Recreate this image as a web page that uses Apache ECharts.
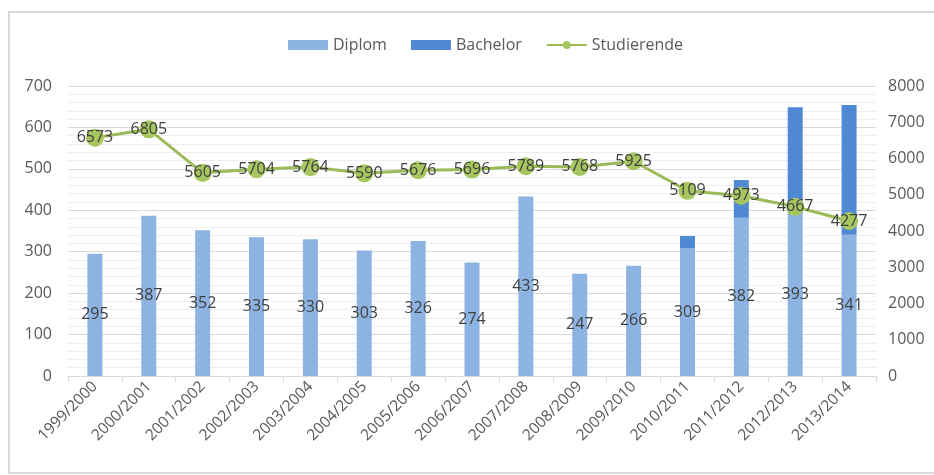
<!DOCTYPE html>
<html>
<head>
<meta charset="utf-8">
<script src="https://cdn.jsdelivr.net/npm/echarts@6/dist/echarts.min.js"></script>
<style>
  html, body { margin: 0; padding: 0; background: #fff; }
  #chart { width: 934px; height: 475px; }
</style>
</head>
<body>
<div id="chart"></div>
<script>
// Semester categories
const semesters = ['1999/2000','2000/2001','2001/2002','2002/2003','2003/2004','2004/2005','2005/2006','2006/2007','2007/2008','2008/2009','2009/2010','2010/2011','2011/2012','2012/2013','2013/2014'];
// Graduates per degree type (left axis)
const diplom = [295, 387, 352, 335, 330, 303, 326, 274, 433, 247, 266, 309, 382, 393, 341];
const bachelor = [0, 0, 0, 0, 0, 0, 0, 0, 0, 0, 0, 29, 91, 256, 313];
// Enrolled students (right axis)
const studierende = [6573, 6805, 5605, 5704, 5764, 5590, 5676, 5696, 5789, 5768, 5925, 5109, 4973, 4667, 4277];

const numFont = '"Open Sans", "Liberation Sans", sans-serif';

const chart = echarts.init(document.getElementById('chart'), null, { renderer: 'canvas' });
chart.setOption({
  animation: false,
  backgroundColor: '#ffffff',
  graphic: [{
    type: 'rect',
    shape: { x: 9, y: 12, width: 940, height: 461 },
    style: { fill: 'none', stroke: '#d9d9d9', lineWidth: 2 },
    silent: true
  }],
  legend: {
    top: 32,
    left: 283,
    itemWidth: 40,
    itemHeight: 10,
    itemGap: 24,
    textStyle: { fontFamily: numFont, fontSize: 16, color: '#595959' },
    data: [
      { name: 'Diplom', icon: 'rect' },
      { name: 'Bachelor', icon: 'rect' },
      { name: 'Studierende' }
    ]
  },
  grid: { left: 68, right: 58, top: 86, bottom: 99 },
  xAxis: {
    type: 'category',
    data: semesters,
    boundaryGap: true,
    axisLine: { lineStyle: { color: '#d9d9d9' } },
    axisTick: { show: true, length: 6, lineStyle: { color: '#d9d9d9' } },
    axisLabel: {
      rotate: 45,
      interval: 0,
      margin: 8,
      fontFamily: numFont,
      fontSize: 15.5,
      color: '#595959'
    }
  },
  yAxis: [{
    type: 'value',
    min: 0, max: 700, interval: 100,
    axisLine: { show: false },
    axisTick: { show: false },
    axisLabel: { fontFamily: numFont, fontSize: 16, color: '#595959', margin: 16 },
    splitLine: { lineStyle: { color: '#d9d9d9' } },
    minorTick: { show: false, splitNumber: 5 },
    minorSplitLine: { show: true, lineStyle: { color: '#eeeeee' } }
  }, {
    type: 'value',
    min: 0, max: 8000, interval: 1000,
    axisLine: { show: false },
    axisTick: { show: false },
    axisLabel: {
      fontFamily: numFont, fontSize: 16, color: '#595959', margin: 12,
      formatter: (v) => String(v)
    },
    splitLine: { show: false }
  }],
  series: [{
    name: 'Diplom',
    type: 'bar',
    stack: 'abs',
    barWidth: 15,
    data: diplom,
    itemStyle: { color: '#8db3e2' },
    label: {
      show: true,
      position: 'inside',
      fontFamily: numFont,
      fontSize: 16,
      color: '#404040'
    },
    z: 2
  }, {
    name: 'Bachelor',
    type: 'bar',
    stack: 'abs',
    barWidth: 15,
    data: bachelor,
    itemStyle: { color: '#4f88d3' },
    z: 2
  }, {
    name: 'Studierende',
    type: 'line',
    yAxisIndex: 1,
    data: studierende,
    symbol: 'circle',
    symbolSize: 18,
    lineStyle: { color: '#9bbb59', width: 3 },
    itemStyle: { color: '#a6c65f' },
    label: {
      show: true,
      position: 'inside',
      fontFamily: numFont,
      fontSize: 16,
      color: '#404040'
    },
    z: 5
  }]
});
</script>
</body>
</html>
